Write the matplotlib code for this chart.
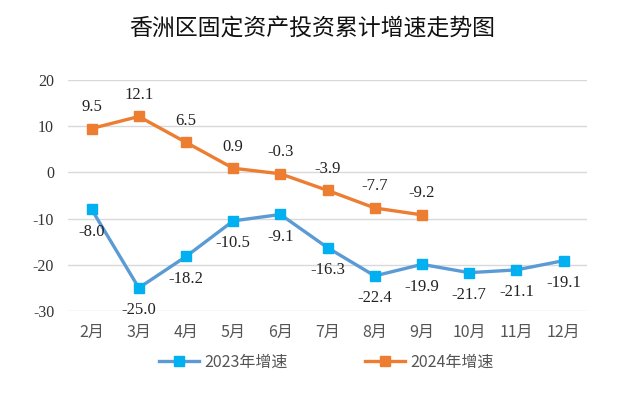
import matplotlib

matplotlib.use("Agg")
import matplotlib.pyplot as plt

plt.rcParams["font.family"] = ["Noto Sans CJK SC", "DejaVu Sans"]

months = ["2月", "3月", "4月", "5月", "6月", "7月", "8月", "9月", "10月", "11月", "12月"]
growth_2023 = [-8.0, -25.0, -18.2, -10.5, -9.1, -16.3, -22.4, -19.9, -21.7, -21.1, -19.1]
growth_2024 = [9.5, 12.1, 6.5, 0.9, -0.3, -3.9, -7.7, -9.2]
yticks = [-30, -20, -10, 0, 10, 20]

serif = ["Liberation Serif", "DejaVu Serif"]

fig = plt.figure(figsize=(6.24, 3.96), dpi=100)
ax = fig.add_axes([0.109, 0.2146, 0.832, 0.5834])

x23 = list(range(len(growth_2023)))
x24 = list(range(len(growth_2024)))

ax.plot(x23, growth_2023, color="#5B9BD5", lw=2.4, marker="s", ms=6.5,
        mfc="#00B0F0", mec="#00B0F0", label="2023年增速", zorder=3)
ax.plot(x24, growth_2024, color="#ED7D31", lw=2.4, marker="s", ms=6.5,
        mfc="#ED7D31", mec="#ED7D31", label="2024年增速", zorder=3)

for xi, v in zip(x23, growth_2023):
    ax.annotate(f"{v:.1f}", (xi, v), xytext=(0, -16), textcoords="offset points",
                ha="center", va="center", fontsize=12, family=serif, color="#222222")
for xi, v in zip(x24, growth_2024):
    ax.annotate(f"{v:.1f}", (xi, v), xytext=(0, 15.5), textcoords="offset points",
                ha="center", va="center", fontsize=12, family=serif, color="#222222")

ax.set_xlim(-0.5, len(months) - 0.5)
ax.set_ylim(-30, 20)
ax.set_yticks(yticks)
ax.set_yticklabels([str(t) for t in yticks], family=serif, fontsize=11.5, color="#333333")
ax.set_xticks(x23)
ax.set_xticklabels(months, fontsize=11.5, color="#555555")
ax.tick_params(length=0)
ax.tick_params(axis="y", pad=10)
ax.tick_params(axis="x", pad=9)
ax.grid(axis="y", color="#D9D9D9", lw=1)
ax.set_axisbelow(True)
for s in ax.spines.values():
    s.set_visible(False)

fig.text(0.5, 0.93, "香洲区固定资产投资累计增速走势图", ha="center", va="center",
         fontsize=16.5, color="#111111")

fig.legend(loc="center", bbox_to_anchor=(0.523, 0.086), ncol=2, frameon=False,
           fontsize=11.5, handlelength=2.5, handletextpad=0.3, columnspacing=4.9,
           labelcolor="#555555")

fig.savefig("out.png", dpi=100)
